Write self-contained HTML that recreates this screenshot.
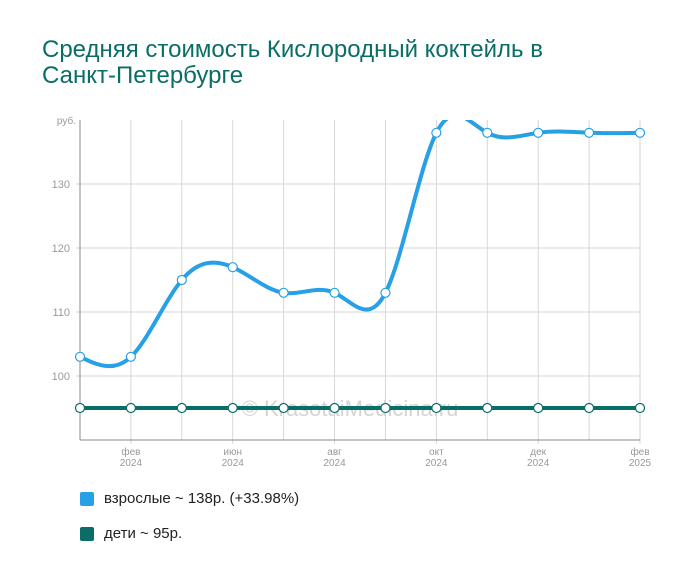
<!DOCTYPE html>
<html><head><meta charset="utf-8"><style>
body{margin:0;background:#fff;font-family:"Liberation Sans",sans-serif}
#wrap{position:relative;width:700px;height:583px;overflow:hidden}
h1{position:absolute;left:42px;top:37px;margin:0;font-weight:normal;font-size:24px;line-height:26px;color:#0a6e66}
.leg{position:absolute;left:80px;font-size:15px;color:#222;display:flex;align-items:center}
.leg span.sw{width:14px;height:14px;border-radius:2px;margin-right:10px;display:inline-block}
</style></head><body>
<div id="wrap">
<h1>Средняя стоимость Кислородный коктейль в<br>Санкт-Петербурге</h1>
<svg id="svg" width="700" height="583" style="position:absolute;left:0;top:0"></svg>
<div class="leg" style="top:490px"><span class="sw" style="background:#27a0e6"></span>взрослые ~ 138р. (+33.98%)</div>
<div class="leg" style="top:525px"><span class="sw" style="background:#0a6e66"></span>дети ~ 95р.</div>
</div>
<script>
const adults=[103,103,115,117,113,113,113,138,138,138,138,138];
const children=[95,95,95,95,95,95,95,95,95,95,95,95];
const yTicks=[100,110,120,130];
const xLabels=[["фев","2024",1],["июн","2024",3],["авг","2024",5],["окт","2024",7],["дек","2024",9],["фев","2025",11]];
const NS="http://www.w3.org/2000/svg",svg=document.getElementById('svg');
const X0=80,X1=640,YT=120,YB=440;
const x=i=>X0+(X1-X0)*i/11;
const y=v=>376-(v-100)*6.4;
function el(t,a,p){const e=document.createElementNS(NS,t);for(const k in a)e.setAttribute(k,a[k]);(p||svg).appendChild(e);return e;}
const defs=el('defs',{});const cp=el('clipPath',{id:'c'},defs);el('rect',{x:X0-10,y:YT,width:X1-X0+20,height:YB-YT+10},cp);
for(let i=0;i<12;i++){const g=el('line',{x1:x(i),x2:x(i),y1:YT,y2:YB+(i%2?4:0),stroke:'#d6d6d6'});}
yTicks.forEach(v=>{const g=el('line',{x1:X0-4,x2:X1,y1:y(v),y2:y(v),stroke:'#d6d6d6'});
const t=el('text',{x:X0-10,y:y(v)+4,'text-anchor':'end','font-size':11,fill:'#999'});t.textContent=v;});
const u=el('text',{x:X0-4,y:YT+4,'text-anchor':'end','font-size':10,fill:'#999'});u.textContent='руб.';
el('line',{x1:X0,x2:X0,y1:YT,y2:YB,stroke:'#888'});el('line',{x1:X0,x2:X1,y1:YB,y2:YB,stroke:'#888'});
xLabels.forEach(l=>{[l[0],l[1]].forEach((s,k)=>{const t=el('text',{x:x(l[2]),y:455+k*11,'text-anchor':'middle','font-size':10,fill:'#999'});t.textContent=s;});});
const wm=el('text',{x:350,y:416,'text-anchor':'middle','font-size':22,fill:'#d4d4d4'});wm.textContent='© KrasotaiMedicina.ru';
function spline(vals){const n=vals.length,ys=vals.map(y),xs=vals.map((_,i)=>x(i));
const h=xs[1]-xs[0];const a=new Array(n).fill(0),b=new Array(n).fill(0),c=new Array(n).fill(0),d=new Array(n).fill(0);
for(let i=1;i<n-1;i++){a[i]=1;b[i]=4;c[i]=1;d[i]=6*(ys[i+1]-2*ys[i]+ys[i-1])/(h*h);}
b[0]=1;b[n-1]=1;const M=new Array(n).fill(0);
for(let i=1;i<n;i++){const w=a[i]/b[i-1];b[i]-=w*c[i-1];d[i]-=w*d[i-1];}
M[n-1]=d[n-1]/b[n-1];for(let i=n-2;i>=0;i--)M[i]=(d[i]-c[i]*M[i+1])/b[i];
let p='M'+xs[0]+','+ys[0];
for(let i=0;i<n-1;i++){const c1=ys[i]+h/3*((ys[i+1]-ys[i])/h-h*(2*M[i]+M[i+1])/6);const c2=ys[i+1]-h/3*((ys[i+1]-ys[i])/h+h*(M[i]+2*M[i+1])/6);
p+=` C${xs[i]+h/3},${c1} ${xs[i+1]-h/3},${c2} ${xs[i+1]},${ys[i+1]}`;}return p;}
const g=el('g',{'clip-path':'url(#c)'});
const la=el('path',{d:spline(adults),fill:'none',stroke:'#27a0e6','stroke-width':4},g);
const lc=el('path',{d:spline(children),fill:'none',stroke:'#0a6e66','stroke-width':4},g);
adults.forEach((v,i)=>{if(y(v)<YT)return;const c=el('circle',{cx:x(i),cy:y(v),r:4.5,fill:'#fff',stroke:'#27a0e6','stroke-width':1.2});});
children.forEach((v,i)=>{const c=el('circle',{cx:x(i),cy:y(v),r:4.5,fill:'#fff',stroke:'#0a6e66','stroke-width':1.2});});
</script></body></html>
